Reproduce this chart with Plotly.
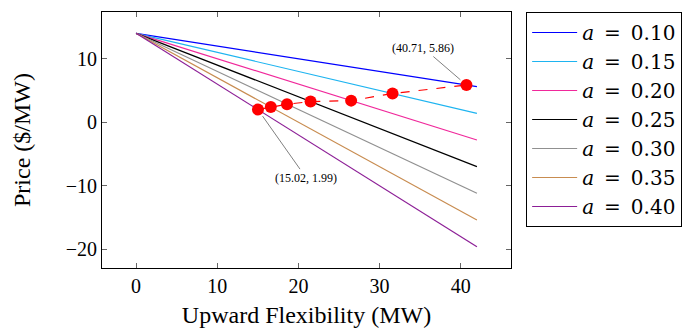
import plotly.graph_objects as go

a_labels = ["0.10", "0.15", "0.20", "0.25", "0.30", "0.35", "0.40"]
x_start = 0
x_end = 42
y_start = 14
y_end = [5.6, 1.4, -2.8, -7.0, -11.2, -15.4, -19.6]
colors = ["#0000ff", "#1eb4f0", "#f0289b", "#000000", "#909090", "#c88c50", "#8c1e96"]

opt_x = [15.02, 16.6, 18.6, 21.5, 26.5, 31.6, 40.71]
opt_y = [1.99, 2.38, 2.84, 3.25, 3.40, 4.52, 5.86]

SERIF = "Liberation Serif, Times New Roman, serif"
LEG = "DejaVu Serif, serif"

fig = go.Figure()
for lab, ye, c in zip(a_labels, y_end, colors):
    fig.add_trace(go.Scatter(
        x=[x_start, x_end], y=[y_start, ye], mode="lines",
        line=dict(color=c, width=1.2),
        name=f"<i>a</i>\u2002=\u2002{lab}"))

fig.add_trace(go.Scatter(
    x=opt_x, y=opt_y, mode="lines+markers",
    line=dict(color="#ff0000", width=1.2, dash="dash"),
    marker=dict(color="#ff0000", size=12),
    showlegend=False))

fig.add_annotation(x=opt_x[-1], y=opt_y[-1], text="(40.71, 5.86)",
                   showarrow=True, arrowhead=0, arrowwidth=1, arrowcolor="#808080",
                   ax=-43, ay=-37, standoff=8,
                   font=dict(family=SERIF, size=12, color="black"))
fig.add_annotation(x=opt_x[0], y=opt_y[0], text="(15.02, 1.99)",
                   showarrow=True, arrowhead=0, arrowwidth=1, arrowcolor="#808080",
                   ax=48, ay=68, standoff=8,
                   font=dict(family=SERIF, size=12, color="black"))

axis_common = dict(showgrid=False, zeroline=False, showline=True, linecolor="black",
                   linewidth=1, mirror="ticks", ticks="inside", ticklen=5,
                   tickcolor="#666666", automargin=False,
                   tickfont=dict(family=SERIF, size=20, color="black"))

fig.update_xaxes(range=[-4.2, 46.2], tickvals=[0, 10, 20, 30, 40],
                 title=dict(text="Upward Flexibility (MW)", standoff=10,
                            font=dict(family=SERIF, size=24, color="black")),
                 **axis_common)
fig.update_yaxes(range=[-22.96, 17.36], tickvals=[-20, -10, 0, 10],
                 ticktext=["\u221220", "\u221210", "0", "10"],
                 title=dict(text="Price ($/MW)", standoff=28,
                            font=dict(family=SERIF, size=24, color="black")),
                 **axis_common)

fig.update_layout(
    width=685, height=323,
    margin=dict(l=94, r=182, t=4, b=63),
    plot_bgcolor="white", paper_bgcolor="white",
    legend=dict(x=1.037, y=1.0, xanchor="left", yanchor="top",
                bordercolor="black", borderwidth=1, bgcolor="white",
                font=dict(family=LEG, size=20, color="black"),
                tracegroupgap=0, itemwidth=45),
)

fig.write_html("out.html")
